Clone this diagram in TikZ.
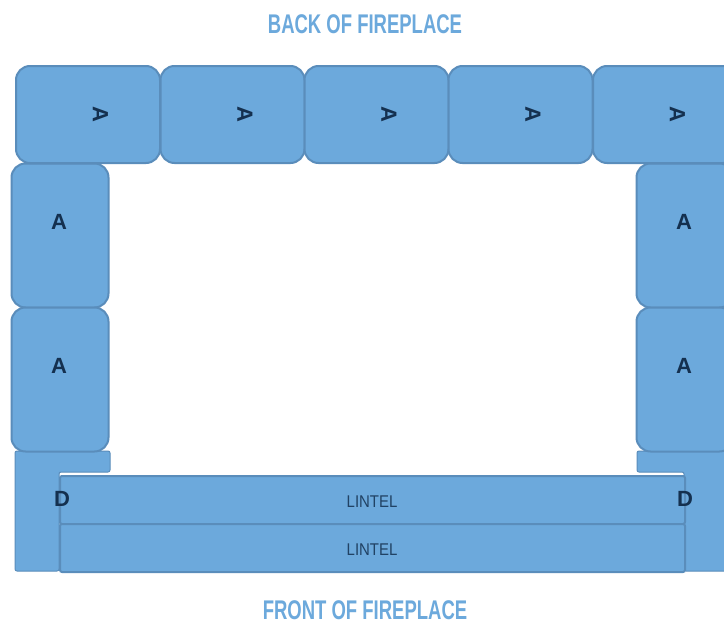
\documentclass[tikz,border=0pt]{standalone}
\usepackage{fontspec}
\setmainfont{Liberation Sans}
\definecolor{brickfill}{HTML}{6CA9DC}
\definecolor{brickline}{HTML}{5A8DBB}
\definecolor{letterdark}{HTML}{14304F}
\begin{document}
	\begin{tikzpicture}[x=1pt,y=-1pt,
		brick/.style={draw=brickline,fill=brickfill,line width=2pt,rounded corners=14pt,inner sep=0pt,anchor=north west},
		lintel/.style={draw=brickline,fill=brickfill,line width=2pt,rounded corners=2pt,inner sep=0pt,minimum width=625pt,minimum height=48pt,anchor=north west},
		letter/.style={text=letterdark,font=\fontsize{22}{22}\selectfont\bfseries,inner sep=0pt},
		small/.style={text=letterdark!85!brickfill,font=\fontsize{17}{17}\selectfont,inner sep=0pt,xscale=0.88},
		heading/.style={text=brickfill,font=\fontsize{27}{27}\selectfont\bfseries,inner sep=0pt,xscale=0.685}]
	\useasboundingbox (0,0) rectangle (724,624);
	\clip (0,0) rectangle (724,624);
	\fill[white] (0,0) rectangle (724,624);
	\node[heading] (back) at (365,24.5) {BACK OF FIREPLACE};
	\node[heading] (front) at (365,610.5) {FRONT OF FIREPLACE};
	% corner pieces under the lintels
	\fill[brickfill,draw=brickline,line width=1pt,rounded corners=2pt] (15,451)--(110,451)--(110,472)--(59,472)--(59,571)--(15,571)--cycle;
	\fill[brickfill,draw=brickline,line width=1pt,rounded corners=2pt] (637,451)--(730,451)--(730,571)--(684,571)--(684,472)--(637,472)--cycle;
	\node[lintel] (lintel1) at (59,475) {};
	\node[lintel] (lintel2) at (59,523) {};
	\node[small] at (lintel1.center) [xshift=-0.5pt,yshift=-2pt] {LINTEL};
	\node[small] at (lintel2.center) [xshift=-0.5pt,yshift=-2pt] {LINTEL};
	\node[letter] (dleft) at (62,499) {D};
	\node[letter] (dright) at (685,499) {D};
	% side walls
	\foreach \n/\x in {l/10.5,r/635.5}{
		\foreach \i/\y in {1/162.5,2/306.5}{
			\node[brick,minimum width=97pt,minimum height=144pt] (side\n\i) at (\x,\y) {};
			\node[letter] at ([xshift=-1pt,yshift=14pt]side\n\i.center) {A};
		}
	}
	% back wall
	\foreach \i/\x in {1/15,2/159.5,3/303.5,4/447.5,5/592}{
		\node[brick,minimum width=144pt,minimum height=97pt] (top\i) at (\x,65) {};
		\node[letter,rotate=-90] at ([xshift=12.5pt]top\i.center) {A};
	}
	\end{tikzpicture}
\end{document}
